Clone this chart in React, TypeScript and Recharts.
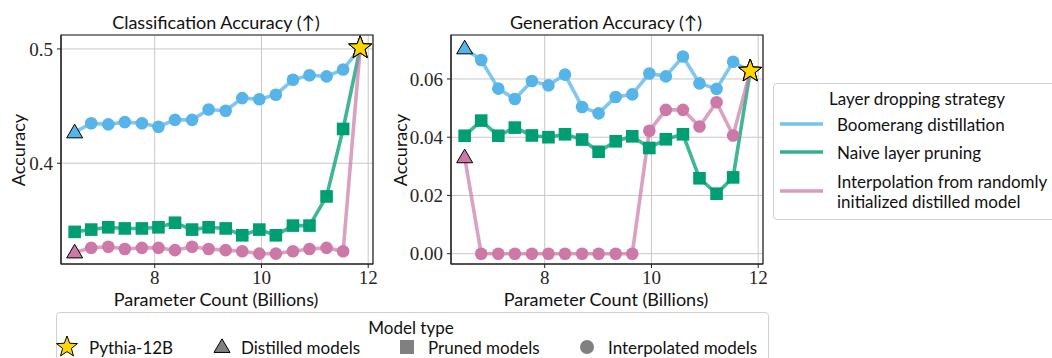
import React from 'react';
import { LineChart, Line, XAxis, YAxis, CartesianGrid, ReferenceArea } from 'recharts';

// Parameter count (billions) for each model size, smallest distilled model to full Pythia-12B
const paramsB = [6.50, 6.81, 7.13, 7.44, 7.76, 8.07, 8.38, 8.70, 9.01, 9.33, 9.64, 9.96, 10.27, 10.59, 10.90, 11.22, 11.53, 11.85];

// Classification accuracy per strategy
const clsBoomerang = [0.427, 0.435, 0.434, 0.436, 0.435, 0.432, 0.438, 0.438, 0.447, 0.446, 0.457, 0.456, 0.460, 0.473, 0.477, 0.476, 0.482, 0.501];
const clsNaive = [0.340, 0.342, 0.344, 0.343, 0.343, 0.344, 0.348, 0.342, 0.344, 0.343, 0.337, 0.342, 0.337, 0.3455, 0.3455, 0.371, 0.430, 0.501];
const clsInterp = [0.322, 0.326, 0.327, 0.325, 0.326, 0.326, 0.324, 0.327, 0.325, 0.324, 0.323, 0.321, 0.321, 0.323, 0.325, 0.326, 0.323, 0.501];

// Generation accuracy per strategy
const genBoomerang = [0.0705, 0.0665, 0.0567, 0.0531, 0.0593, 0.0578, 0.0615, 0.0504, 0.0482, 0.0538, 0.0547, 0.0619, 0.0609, 0.0677, 0.0585, 0.0566, 0.0659, 0.0627];
const genNaive = [0.0405, 0.0457, 0.0405, 0.0433, 0.0406, 0.0400, 0.0410, 0.0392, 0.0350, 0.0386, 0.0403, 0.0363, 0.0393, 0.0410, 0.0259, 0.0206, 0.0262, 0.0627];
const genInterp = [0.0331, 0, 0, 0, 0, 0, 0, 0, 0, 0, 0, 0.0422, 0.0494, 0.0494, 0.0437, 0.0520, 0.0406, 0.0627];

const xTicks = [8, 10, 12];
const clsTicks = [0.4, 0.5];
const genTicks = [0, 0.02, 0.04, 0.06];

const strategyLabels = ['Boomerang distillation', 'Naive layer pruning', 'Interpolation from randomly', 'initialized distilled model'];
const modelTypeLabels = ['Pythia-12B', 'Distilled models', 'Pruned models', 'Interpolated models'];

const BLUE = '#56B4E9';
const GREEN = '#009E73';
const PINK = '#CC79A7';
const GOLD = '#FFD700';
const GRAY = '#808080';

const SANS = 'Lato, "DejaVu Sans", sans-serif';
const SERIF = '"Liberation Serif", "DejaVu Serif", serif';

const X_DOMAIN: [number, number] = [6.244, 12.09];

function starPoints(cx: number, cy: number, outer: number, inner: number) {
  const pts: string[] = [];
  for (let i = 0; i < 10; i++) {
    const r = i % 2 === 0 ? outer : inner;
    const a = -Math.PI / 2 + (i * Math.PI) / 5;
    pts.push(`${cx + r * Math.cos(a)},${cy + r * Math.sin(a)}`);
  }
  return pts.join(' ');
}

function Star({ cx, cy, size = 12 }: { cx: number; cy: number; size?: number }) {
  return <polygon points={starPoints(cx, cy, size, size * 0.42)} fill={GOLD} stroke="#000" strokeWidth={1} />;
}

function Triangle({ cx, cy, color, size = 8 }: { cx: number; cy: number; color: string; size?: number }) {
  const h = size * 1.7;
  const pts = `${cx},${cy - h * 0.6} ${cx - size},${cy + h * 0.4} ${cx + size},${cy + h * 0.4}`;
  return <polygon points={pts} fill={color} stroke="#000" strokeWidth={1} />;
}

type Kind = 'circle' | 'square';

// Markers: triangle for the distilled start point, star for the full model, circle/square otherwise
function makeDot(color: string, kind: Kind, startTriangle: boolean, last: number) {
  return (p: any) => {
    const { cx, cy, index } = p;
    const key = `d-${color}-${index}`;
    if (cx == null || cy == null) return <g key={key} />;
    if (index === last) return <g key={key}><Star cx={cx} cy={cy} /></g>;
    if (index === 0 && startTriangle) return <g key={key}><Triangle cx={cx} cy={cy} color={color} /></g>;
    if (kind === 'square') return <rect key={key} x={cx - 6.3} y={cy - 6.3} width={12.6} height={12.6} fill={color} />;
    return <circle key={key} cx={cx} cy={cy} r={6.3} fill={color} />;
  };
}

function Panel({ boomerang, naive, interp, yDomain, yTicks, digits }: {
  boomerang: number[]; naive: number[]; interp: number[];
  yDomain: [number, number]; yTicks: number[]; digits: number;
}) {
  const data = paramsB.map((x, i) => ({ x, boomerang: boomerang[i], naive: naive[i], interp: interp[i] }));
  const last = paramsB.length - 1;
  const tickStyle = { fontFamily: SERIF, fontSize: 19, fill: '#262626' };
  return (
    <LineChart width={390} height={310} data={data} margin={{ top: 35, right: 17, bottom: 0, left: 0 }}>
      <CartesianGrid stroke="#c8c8c8" strokeWidth={1} />
      <XAxis
        type="number" dataKey="x" domain={X_DOMAIN} ticks={xTicks} allowDataOverflow
        height={46} tickSize={4} tickMargin={3} tick={tickStyle}
        stroke="#222" axisLine={{ stroke: '#222' }} tickLine={{ stroke: '#222' }}
      />
      <YAxis
        type="number" domain={yDomain} ticks={yTicks} allowDataOverflow width={61}
        tickSize={4} tickMargin={4} tick={tickStyle} tickFormatter={(v: number) => v.toFixed(digits)}
        stroke="#222" axisLine={{ stroke: '#222' }} tickLine={{ stroke: '#222' }}
      />
      <ReferenceArea x1={X_DOMAIN[0]} x2={X_DOMAIN[1]} y1={yDomain[0]} y2={yDomain[1]} fill="none" stroke="#222" strokeWidth={1.2} ifOverflow="visible" />
      <Line dataKey="boomerang" stroke={BLUE} strokeOpacity={0.75} strokeWidth={3.6} isAnimationActive={false}
        dot={makeDot(BLUE, 'circle', true, last)} activeDot={false} />
      <Line dataKey="naive" stroke={GREEN} strokeOpacity={0.75} strokeWidth={3.6} isAnimationActive={false}
        dot={makeDot(GREEN, 'square', false, last)} activeDot={false} />
      <Line dataKey="interp" stroke={PINK} strokeOpacity={0.7} strokeWidth={3.6} isAnimationActive={false}
        dot={makeDot(PINK, 'circle', true, last)} activeDot={false} />
    </LineChart>
  );
}

const textBase: React.CSSProperties = { position: 'absolute', fontFamily: SANS, color: '#111', whiteSpace: 'nowrap', lineHeight: 1 };

function Centered({ x, y, size, children }: { x: number; y: number; size: number; children: React.ReactNode }) {
  return <div style={{ ...textBase, left: x, top: y, fontSize: size, transform: 'translate(-50%, -50%)' }}>{children}</div>;
}

function LeftText({ x, y, size, children }: { x: number; y: number; size: number; children: React.ReactNode }) {
  return <div style={{ ...textBase, left: x, top: y, fontSize: size, transform: 'translateY(-50%)' }}>{children}</div>;
}

const LEG = 17;

export default function App() {
  return (
    <div style={{ position: 'absolute', left: 0, top: 0, width: 1052, height: 358, background: '#fff', overflow: 'hidden' }}>
      <div style={{ position: 'absolute', left: 0, top: 0 }}>
        <Panel boomerang={clsBoomerang} naive={clsNaive} interp={clsInterp} yDomain={[0.3119, 0.5122]} yTicks={clsTicks} digits={1} />
      </div>
      <div style={{ position: 'absolute', left: 390, top: 0 }}>
        <Panel boomerang={genBoomerang} naive={genNaive} interp={genInterp} yDomain={[-0.00354, 0.0751]} yTicks={genTicks} digits={2} />
      </div>

      <Centered x={216} y={22} size={18}>Classification Accuracy (↑)</Centered>
      <Centered x={606} y={22} size={18}>Generation Accuracy (↑)</Centered>
      <Centered x={216} y={299} size={18}>Parameter Count (Billions)</Centered>
      <Centered x={606} y={299} size={18}>Parameter Count (Billions)</Centered>
      <div style={{ ...textBase, left: 18, top: 150, fontSize: 18, transform: 'translate(-50%, -50%) rotate(-90deg)' }}>Accuracy</div>
      <div style={{ ...textBase, left: 400, top: 150, fontSize: 18, transform: 'translate(-50%, -50%) rotate(-90deg)' }}>Accuracy</div>

      {/* Strategy legend */}
      <div style={{ position: 'absolute', left: 773, top: 83, width: 300, height: 135, border: '1px solid #d0d0d0', borderRadius: 4, background: 'rgba(255,255,255,0.8)' }} />
      <Centered x={917} y={98} size={LEG}>Layer dropping strategy</Centered>
      <svg style={{ position: 'absolute', left: 0, top: 0 }} width={1052} height={358}>
        <line x1={780} x2={823} y1={124} y2={124} stroke={BLUE} strokeOpacity={0.8} strokeWidth={3.6} />
        <line x1={780} x2={823} y1={152} y2={152} stroke={GREEN} strokeOpacity={0.8} strokeWidth={3.6} />
        <line x1={780} x2={823} y1={191} y2={191} stroke={PINK} strokeOpacity={0.75} strokeWidth={3.6} />
      </svg>
      <LeftText x={837} y={124} size={LEG}>{strategyLabels[0]}</LeftText>
      <LeftText x={837} y={152} size={LEG}>{strategyLabels[1]}</LeftText>
      <LeftText x={837} y={181} size={LEG}>{strategyLabels[2]}</LeftText>
      <LeftText x={837} y={201} size={LEG}>{strategyLabels[3]}</LeftText>

      {/* Model type legend */}
      <div style={{ position: 'absolute', left: 56, top: 312, width: 711, height: 60, border: '1px solid #d0d0d0', borderRadius: 4, background: 'rgba(255,255,255,0.8)' }} />
      <Centered x={411} y={327} size={LEG}>Model type</Centered>
      <svg style={{ position: 'absolute', left: 0, top: 0 }} width={1052} height={358}>
        <Star cx={67} cy={347} size={11} />
        <Triangle cx={222} cy={347} color={GRAY} size={8} />
        <rect x={400} y={340} width={14} height={14} fill={GRAY} />
        <circle cx={587} cy={347} r={7} fill={GRAY} />
      </svg>
      <LeftText x={89} y={347} size={LEG}>{modelTypeLabels[0]}</LeftText>
      <LeftText x={241} y={347} size={LEG}>{modelTypeLabels[1]}</LeftText>
      <LeftText x={428} y={347} size={LEG}>{modelTypeLabels[2]}</LeftText>
      <LeftText x={608} y={347} size={LEG}>{modelTypeLabels[3]}</LeftText>
    </div>
  );
}
